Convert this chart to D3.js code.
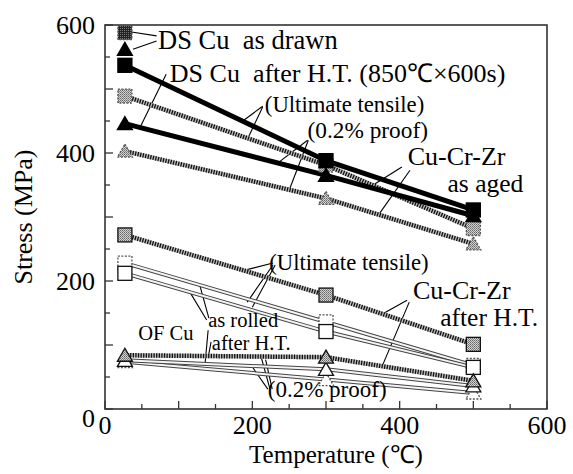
<!DOCTYPE html>
<html>
<head>
<meta charset="utf-8">
<script src="https://cdn.jsdelivr.net/npm/d3@7"></script>
<style>
body{margin:0;background:#fff;}
text{font-family:"Liberation Serif","Times New Roman",serif;fill:#000;white-space:pre;}
</style>
</head>
<body>
<svg id="chart" width="573" height="474"></svg>
<script>
// temperatures of the tests (deg C)
var temps = [27, 300, 500];

// stress values, MPa
var dsDrawnUts = [588], dsDrawnProof = [562];
var dsHtUts = [537, 388, 311], dsHtProof = [446, 365, 302];
var agedUts = [489, 381, 282], agedProof = [403, 329, 258];
var czHtUts = [272, 178, 101], czHtProof = [84, 81, 44];
var ofRolledUts = [228, 136, 68], ofRolledProof = [74, 46, 25];
var ofHtUts = [212, 121, 65], ofHtProof = [76, 62, 36];

var xTicks = [0, 200, 400, 600];
var yTicks = [0, 200, 400, 600];
var minorTicks = d3.range(0, 601, 50);

// labels [text, temp, stress, size]
var labels = [
	["DS Cu  as drawn", 72, 562, 26.5],
	["DS Cu  after H.T. (850\u2103\u00d7600s)", 88, 511, 26],
	["(Ultimate tensile)", 217, 464, 22.7],
	["(0.2% proof)", 275, 423, 23.3],
	["Cu-Cr-Zr", 411, 382, 26],
	["as aged", 465, 339, 25.5],
	["(Ultimate tensile)", 223, 217, 22.7],
	["Cu-Cr-Zr", 418, 172, 26],
	["after H.T.", 455, 129, 25.5],
	["OF Cu", 45, 108, 20.5],
	["as rolled", 140, 128, 20.5],
	["after H.T.", 145, 92, 20.5],
	["(0.2% proof)", 221, 19, 23]
];

// leader lines [t1, s1, t2, s2]
var leaders = [
	[70, 583, 36, 589], [70, 575, 38, 562],
	[83, 523, 48, 441],
	[214, 473, 187, 450], [214, 472, 194, 423],
	[275, 420, 233, 383], [276, 420, 251, 345],
	[403, 378, 364, 350], [414, 373, 373, 306],
	[228, 228, 190, 217], [228, 225, 193, 167], [231, 225, 200, 159],
	[410, 170, 376, 148], [413, 167, 377, 69],
	[138, 139, 115, 183], [141, 142, 129, 192],
	[140, 123, 136, 73], [144, 105, 140, 80],
	[221, 31, 201, 64], [224, 31, 212, 81], [227, 31, 218, 77]
];

var series = [
	{vals: ofRolledUts, shape: "square", line: "double", fill: "#fff", dash: true},
	{vals: ofHtUts, shape: "square", line: "double", fill: "#fff", dash: false},
	{vals: ofRolledProof, shape: "tri", line: "double", fill: "#fff", dash: true},
	{vals: ofHtProof, shape: "tri", line: "double", fill: "#fff", dash: false},
	{vals: czHtUts, shape: "square", line: "hatch", fill: "url(#grain)", dash: false},
	{vals: czHtProof, shape: "tri", line: "hatch", fill: "url(#grain)", dash: false},
	{vals: agedProof, shape: "tri", line: "hatch", fill: "url(#grain)", dash: true},
	{vals: agedUts, shape: "square", line: "hatch", fill: "url(#grain)", dash: true},
	{vals: dsHtProof, shape: "tri", line: "solid", fill: "#000", dash: false},
	{vals: dsHtUts, shape: "square", line: "solid", fill: "#000", dash: false},
	{vals: dsDrawnProof, shape: "tri", line: "none", fill: "#000", dash: false},
	{vals: dsDrawnUts, shape: "square", line: "none", fill: "url(#dark)", dash: true}
];

var svg = d3.select("#chart");
var margin = {top: 25, right: 26, bottom: 65, left: 105};
var width = 573, height = 474;

var x = d3.scaleLinear().domain([0, 600]).range([margin.left, width - margin.right]);
var y = d3.scaleLinear().domain([0, 600]).range([height - margin.bottom, margin.top]);

//Patterns for the grey textured markers
var defs = svg.append("defs");
var grain = defs.append("pattern").attr("id", "grain")
	.attr("patternUnits", "userSpaceOnUse").attr("width", 2).attr("height", 2);
grain.append("rect").attr("width", 2).attr("height", 2).attr("fill", "#d0d0d0");
grain.append("rect").attr("width", 1).attr("height", 1).attr("fill", "#666");
grain.append("rect").attr("x", 1).attr("y", 1).attr("width", 1).attr("height", 1).attr("fill", "#888");
var dark = defs.append("pattern").attr("id", "dark")
	.attr("patternUnits", "userSpaceOnUse").attr("width", 2).attr("height", 2);
dark.append("rect").attr("width", 2).attr("height", 2).attr("fill", "#222");
dark.append("rect").attr("width", 1).attr("height", 1).attr("fill", "#777");

//Ticks (inside)
var tickG = svg.append("g").attr("stroke", "#333").attr("stroke-width", 1.3);
minorTicks.forEach(function(v){
	var len = (v % 100 === 0) ? 8 : 5;
	tickG.append("line").attr("x1", x(v)).attr("x2", x(v))
		.attr("y1", y(0)).attr("y2", y(0) - len);
	tickG.append("line").attr("y1", y(v)).attr("y2", y(v))
		.attr("x1", x(0)).attr("x2", x(0) + len);
});

//Frame
svg.append("rect")
	.attr("x", x(0)).attr("y", y(600))
	.attr("width", x(600) - x(0)).attr("height", y(0) - y(600))
	.attr("fill", "none").attr("stroke", "#333").attr("stroke-width", 1.6);

//Tick labels
svg.selectAll(".xl").data(xTicks).enter().append("text")
	.attr("x", function(d){ return x(d); })
	.attr("y", y(0) + 25)
	.attr("text-anchor", "middle")
	.style("font-size", "26px")
	.text(function(d){ return d; });
svg.selectAll(".yl").data(yTicks).enter().append("text")
	.attr("x", x(0) - 10)
	.attr("y", function(d){ return y(d) + (d === 0 ? 18 : 9); })
	.attr("text-anchor", "end")
	.style("font-size", "26px")
	.text(function(d){ return d; });

//Axis titles
svg.append("text")
	.attr("x", (x(0) + x(600)) / 2 + 10)
	.attr("y", 463)
	.attr("text-anchor", "middle")
	.style("font-size", "25px")
	.text("Temperature (\u2103)");
svg.append("text")
	.attr("transform", "translate(32," + 217 + ")rotate(-90)")
	.attr("text-anchor", "middle")
	.style("font-size", "26px")
	.text("Stress (MPa)");

//Leader lines
svg.append("g").selectAll("line").data(leaders).enter().append("line")
	.attr("x1", function(d){ return x(d[0]); })
	.attr("y1", function(d){ return y(d[1]); })
	.attr("x2", function(d){ return x(d[2]); })
	.attr("y2", function(d){ return y(d[3]); })
	.attr("stroke", "#000").attr("stroke-width", 1.1);

//Series lines
var line = d3.line()
	.x(function(d, i){ return x(temps[i]); })
	.y(function(d){ return y(d); });

var lineG = svg.append("g").attr("fill", "none");
series.forEach(function(s){
	if (s.line === "none") return;
	if (s.line === "solid"){
		lineG.append("path").attr("d", line(s.vals))
			.attr("stroke", "#000").attr("stroke-width", 5);
	} else if (s.line === "hatch"){
		lineG.append("path").attr("d", line(s.vals))
			.attr("stroke", "#bbb").attr("stroke-width", 4.5);
		lineG.append("path").attr("d", line(s.vals))
			.attr("stroke", "#111").attr("stroke-width", 4.5)
			.attr("stroke-dasharray", "1.3,1.3");
	} else {
		lineG.append("path").attr("d", line(s.vals))
			.attr("stroke", "#444").attr("stroke-width", 4);
		lineG.append("path").attr("d", line(s.vals))
			.attr("stroke", "#f4f4f4").attr("stroke-width", 2);
	}
});

//Markers
var markG = svg.append("g");
series.forEach(function(s){
	s.vals.forEach(function(v, i){
		var cx = x(temps[i]), cy = y(v), m;
		if (s.shape === "square"){
			m = markG.append("rect")
				.attr("x", cx - 7).attr("y", cy - 7)
				.attr("width", 14).attr("height", 14);
		} else {
			m = markG.append("path")
				.attr("d", "M" + cx + "," + (cy - 7) + "L" + (cx + 7.5) + "," + (cy + 6) + "L" + (cx - 7.5) + "," + (cy + 6) + "Z");
		}
		m.attr("fill", s.fill)
			.attr("stroke", s.fill === "#000" ? "#000" : (s.dash ? "#555" : "#111"))
			.attr("stroke-width", 1.3)
			.attr("stroke-dasharray", s.dash ? "2,1.5" : null);
	});
});

//Annotation texts
svg.append("g").selectAll("text").data(labels).enter().append("text")
	.attr("x", function(d){ return x(d[1]); })
	.attr("y", function(d){ return y(d[2]); })
	.style("font-size", function(d){ return d[3] + "px"; })
	.text(function(d){ return d[0]; });
</script>
</body>
</html>
